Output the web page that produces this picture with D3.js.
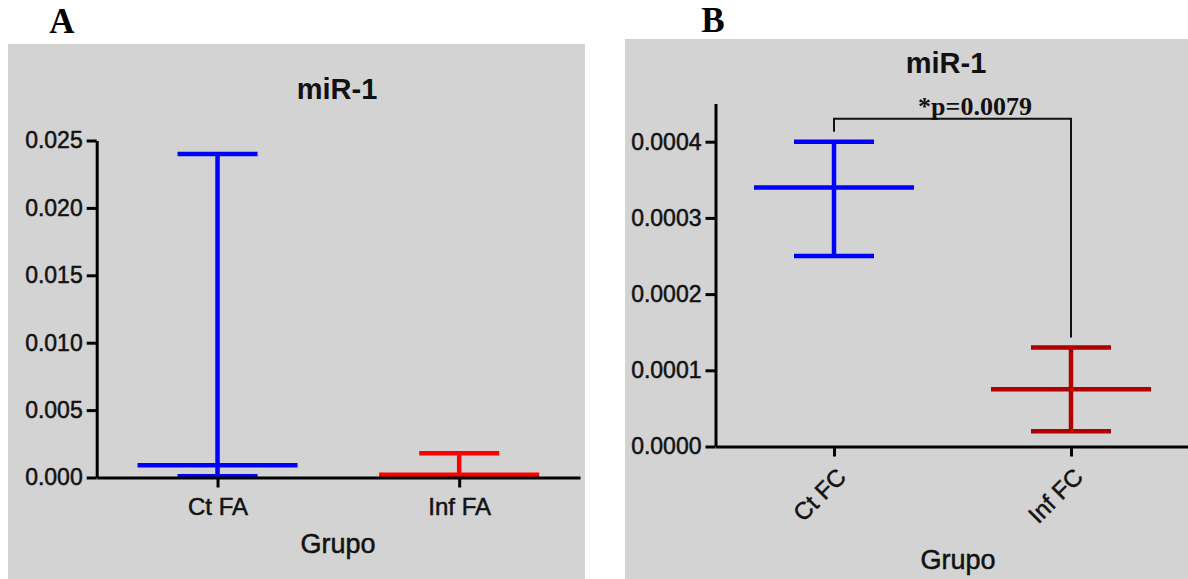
<!DOCTYPE html>
<html>
<head>
<meta charset="utf-8">
<script src="https://cdn.jsdelivr.net/npm/d3@7"></script>
<style>
  html, body { margin: 0; padding: 0; background: #fff; }
  svg { display: block; }
  text { font-family: "Liberation Sans", Arial, sans-serif; }
  .thick { stroke: #111; stroke-width: 0.5px; }
</style>
</head>
<body>
<svg id="chart" width="1188" height="579"></svg>
<script>
// ---------- Data ----------
const categoriesA = ["Ct FA", "Inf FA"];
const meanA  = [0.0009, 0.0002];
const upperA = [0.024, 0.0018];
const lowerA = [0.0001, 0.00005];
const colorsA = ["#0000FF", "#FF0000"];
const ticksA = [0, 0.005, 0.010, 0.015, 0.020, 0.025];

const categoriesB = ["Ct FC", "Inf FC"];
const meanB  = [0.00034, 0.000075];
const upperB = [0.0004, 0.00013];
const lowerB = [0.00025, 0.00002];
const colorsB = ["#0000FF", "#B00000"];
const ticksB = [0, 0.0001, 0.0002, 0.0003, 0.0004];

const titleText = "miR-1";
const xTitle = "Grupo";
const pText = "*p=0.0079";
const bracketLevel = 0.00043;

// ---------- Setup ----------
const svg = d3.select("#chart");
svg.append("rect").attr("width", 1188).attr("height", 579).attr("fill", "#fff");

const BG = "#D3D3D3";
const AXW = 3, BARW = 4.5;

function errorBars(g, cats, x, y, mean, upper, lower, colors) {
  cats.forEach((c, i) => {
    const cx = x(c);
    const col = colors[i];
    g.append("line").attr("x1", cx - 80).attr("x2", cx + 80)
      .attr("y1", y(mean[i])).attr("y2", y(mean[i]))
      .attr("stroke", col).attr("stroke-width", BARW);
    g.append("line").attr("x1", cx).attr("x2", cx)
      .attr("y1", y(lower[i])).attr("y2", y(upper[i]))
      .attr("stroke", col).attr("stroke-width", BARW);
    [upper[i], lower[i]].forEach(v => {
      g.append("line").attr("x1", cx - 40).attr("x2", cx + 40)
        .attr("y1", y(v)).attr("y2", y(v))
        .attr("stroke", col).attr("stroke-width", BARW);
    });
  });
}

function styleAxis(g) {
  g.selectAll("path.domain").attr("stroke", "#000").attr("stroke-width", AXW);
  g.selectAll(".tick line").attr("stroke", "#000").attr("stroke-width", AXW);
  g.selectAll(".tick text").attr("fill", "#111").classed("thick", true)
    .style("font-family", "Liberation Sans, Arial, sans-serif");
}

// ---------- Panel A ----------
const gA = svg.append("g");
gA.append("rect").attr("x", 8).attr("y", 44).attr("width", 577).attr("height", 535).attr("fill", BG);
gA.append("text").attr("x", 62).attr("y", 33).attr("text-anchor", "middle")
  .style("font-family", "Liberation Serif, Times New Roman, serif")
  .style("font-weight", "bold").style("font-size", "35px").text("A");

const xA = d3.scalePoint().domain(categoriesA).range([96.7, 580]).padding(0.5);
const yA = d3.scaleLinear().domain([0, 0.025]).range([477.5, 140.5]);

errorBars(gA, categoriesA, xA, yA, meanA, upperA, lowerA, colorsA);

const yAxA = gA.append("g").attr("transform", "translate(96.7,0)")
  .call(d3.axisLeft(yA).tickValues(ticksA).tickFormat(d3.format(".3f"))
    .tickSize(10).tickSizeOuter(0).tickPadding(4));
yAxA.selectAll(".tick text").style("font-size", "23px");
styleAxis(yAxA);

const xAxA = gA.append("g").attr("transform", `translate(0,${yA(0)})`)
  .call(d3.axisBottom(xA).tickSize(10).tickSizeOuter(0).tickPadding(10));
xAxA.selectAll(".tick text").style("font-size", "24px");
styleAxis(xAxA);

gA.append("text").attr("x", 337).attr("y", 99).attr("text-anchor", "middle")
  .style("font-weight", "bold").style("font-size", "29px").attr("fill", "#111").text(titleText);
gA.append("text").attr("x", 338).attr("y", 553).attr("text-anchor", "middle").classed("thick", true)
  .style("font-size", "27px").attr("fill", "#111").text(xTitle);

// ---------- Panel B ----------
const gB = svg.append("g");
gB.append("rect").attr("x", 625).attr("y", 39).attr("width", 563).attr("height", 540).attr("fill", BG);
gB.append("text").attr("x", 713).attr("y", 32).attr("text-anchor", "middle")
  .style("font-family", "Liberation Serif, Times New Roman, serif")
  .style("font-weight", "bold").style("font-size", "35px").text("B");

const xB = d3.scalePoint().domain(categoriesB).range([715.5, 1189.5]).padding(0.5);
const yB = d3.scaleLinear().domain([0, 0.00045]).range([446.5, 103.6]);

errorBars(gB, categoriesB, xB, yB, meanB, upperB, lowerB, colorsB);

const yAxB = gB.append("g").attr("transform", "translate(715.5,0)")
  .call(d3.axisLeft(yB).tickValues(ticksB).tickFormat(d3.format(".4f"))
    .tickSize(10).tickSizeOuter(0).tickPadding(4));
yAxB.selectAll(".tick text").style("font-size", "23px");
styleAxis(yAxB);

const xAxB = gB.append("g").attr("transform", `translate(0,${yB(0)})`)
  .call(d3.axisBottom(xB).tickSize(10).tickSizeOuter(0));
xAxB.selectAll(".tick text")
  .style("font-size", "24px")
  .attr("text-anchor", "end")
  .attr("y", 0).attr("dy", "0.35em")
  .attr("transform", "translate(7,26) rotate(-45)");
styleAxis(xAxB);

gB.append("text").attr("x", 946).attr("y", 73).attr("text-anchor", "middle")
  .style("font-weight", "bold").style("font-size", "29px").attr("fill", "#111").text(titleText);
gB.append("text").attr("x", 958).attr("y", 569).attr("text-anchor", "middle").classed("thick", true)
  .style("font-size", "27px").attr("fill", "#111").text(xTitle);

// significance bracket
const bx1 = xB(categoriesB[0]), bx2 = xB(categoriesB[1]);
const by = yB(bracketLevel);
gB.append("path")
  .attr("d", `M${bx1},${yB(upperB[0]) - 10}V${by}H${bx2}V${yB(upperB[1]) - 10}`)
  .attr("fill", "none").attr("stroke", "#111").attr("stroke-width", 2);
gB.append("text").attr("x", 975).attr("y", by - 4).attr("text-anchor", "middle")
  .style("font-family", "Liberation Serif, Times New Roman, serif")
  .style("font-weight", "bold").style("font-size", "26px").attr("fill", "#111").text(pText);
</script>
</body>
</html>
